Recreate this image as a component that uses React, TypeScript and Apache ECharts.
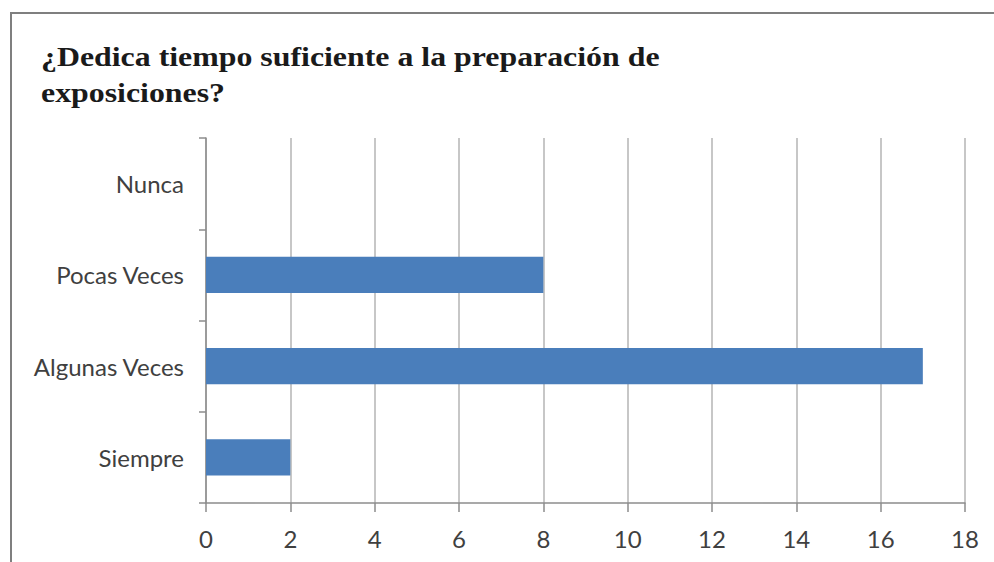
import React, { useEffect, useRef } from "react";
import * as echarts from "echarts";

const categories = ["Siempre", "Algunas Veces", "Pocas Veces", "Nunca"];
const values = [2, 17, 8, 0];
const titleText = "¿Dedica tiempo suficiente a la preparación de\nexposiciones?";

export default function App() {
  const ref = useRef<HTMLDivElement>(null);
  useEffect(() => {
    const chart = echarts.init(ref.current!, null, { renderer: "svg" });
    chart.setOption({
      animation: false,
      backgroundColor: "#ffffff",
      graphic: [
        {
          type: "rect",
          shape: { x: 11, y: 13, width: 1200, height: 800 },
          style: { fill: "none", stroke: "#7f7f7f", lineWidth: 2 },
          silent: true,
        },
        {
          type: "text",
          x: 41,
          y: 39,
          scaleX: 1.18,
          style: {
            text: titleText,
            fontFamily: "Liberation Serif",
            fontWeight: "bold",
            fontSize: 27,
            lineHeight: 36,
            fill: "#1a1a1a",
            verticalAlign: "top",
            align: "left",
          },
          silent: true,
        },
      ],
      grid: { left: 206, right: 29, top: 138, bottom: 59 },
      xAxis: {
        type: "value",
        min: 0,
        max: 18,
        interval: 2,
        axisLine: { show: true, lineStyle: { color: "#8c8c8c", width: 1.5 } },
        axisTick: { show: true, length: 9, lineStyle: { color: "#8c8c8c", width: 1.5 } },
        axisLabel: {
          margin: 23,
          fontFamily: "Lato",
          fontSize: 24,
          color: "#404040",
        },
        splitLine: { show: true, lineStyle: { color: "#b5b5b5", width: 1.5 } },
      },
      yAxis: {
        type: "category",
        data: categories,
        axisLine: { show: true, lineStyle: { color: "#8c8c8c", width: 1.5 } },
        axisTick: { show: true, length: 7, lineStyle: { color: "#8c8c8c", width: 1.5 } },
        axisLabel: {
          margin: 22,
          fontFamily: "Lato",
          fontSize: 24,
          color: "#404040",
        },
      },
      series: [
        {
          type: "bar",
          data: values,
          barWidth: "39.5%",
          itemStyle: { color: "#4a7ebb" },
        },
      ],
    });
    return () => chart.dispose();
  }, []);
  return (
    <div
      ref={ref}
      style={{ position: "absolute", left: 0, top: 0, width: 994, height: 562 }}
    />
  );
}
